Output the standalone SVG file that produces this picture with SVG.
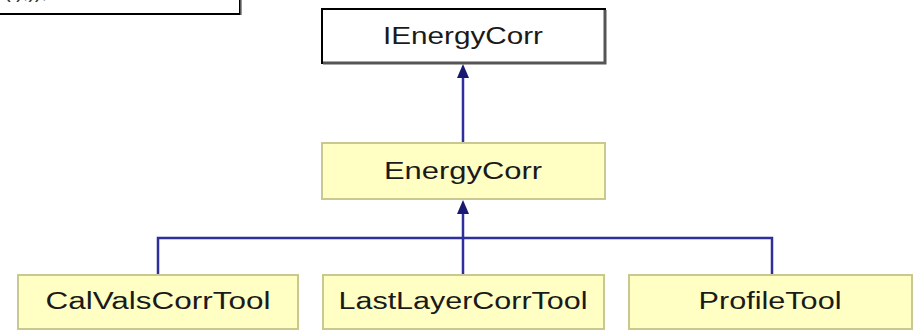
<svg xmlns="http://www.w3.org/2000/svg" width="915" height="331" viewBox="0 0 915 331">
  <style>
    .lbl { font-family: "Liberation Sans", Arial, sans-serif; font-size: 23px; fill: #1a1a1a; text-anchor: middle; }
    .cls { fill: #ffffc4; stroke: #c8c890; stroke-width: 2; }
    .shadow { fill: none; stroke: #b0b090; stroke-width: 2; }
    .edge { stroke: #2e2e9c; stroke-width: 2.5; fill: none; }
  </style>
  <defs>
    <marker id="inherit" viewBox="0 0 10 10" refX="5" refY="1" markerWidth="6" markerHeight="6" markerUnits="userSpaceOnUse" orient="auto-start-reverse">
      <path d="M0,0 L10,0 L5,-1 Z" fill="#191970"/>
    </marker>
  </defs>
  <rect width="915" height="331" fill="#ffffff"/>

  <!-- partially visible note box at top-left -->
  <g id="note">
    <rect x="-4" y="-20" width="244" height="34" fill="#ffffff" stroke="#000000" stroke-width="2"/>
    <line x1="241" y1="-20" x2="241" y2="15" stroke="#777777" stroke-width="1.5"/>
    <text x="4" y="-2" font-family="Liberation Sans, Arial, sans-serif" font-size="20" fill="#333333">(            ),));</text>
  </g>

  <!-- connectors -->
  <g id="edges">
    <line class="edge" x1="463" y1="143" x2="463" y2="78"/>
    <path d="M463,64 L469,78 L457,78 Z" fill="#191970"/>
    <line class="edge" x1="463" y1="275" x2="463" y2="214"/>
    <path d="M463,200 L469,214 L457,214 Z" fill="#191970"/>
    <polyline class="edge" points="158,275 158,238 772,238 772,275"/>
  </g>

  <g id="IEnergyCorr">
    <rect x="322" y="9" width="283" height="54" fill="#ffffff" stroke="#000000" stroke-width="2"/>
    <polyline points="605,10 605,63 323,63" fill="none" stroke="#555555" stroke-width="3"/>
    <text class="lbl" x="463" y="44" font-size="24" textLength="160" lengthAdjust="spacingAndGlyphs">IEnergyCorr</text>
  </g>

  <g id="EnergyCorr">
    <rect class="cls" x="322" y="143" width="283" height="56"/>
    <text class="lbl" x="463" y="179" font-size="24" textLength="158" lengthAdjust="spacingAndGlyphs">EnergyCorr</text>
  </g>

  <g id="CalValsCorrTool">
    <rect class="cls" x="18" y="275" width="280" height="54"/>
    <text class="lbl" x="158" y="309" textLength="225" lengthAdjust="spacingAndGlyphs">CalValsCorrTool</text>
  </g>

  <g id="LastLayerCorrTool">
    <rect class="cls" x="323" y="275" width="281" height="54"/>
    <text class="lbl" x="463" y="309" textLength="249" lengthAdjust="spacingAndGlyphs">LastLayerCorrTool</text>
  </g>

  <g id="ProfileTool">
    <rect class="cls" x="629" y="275" width="283" height="54"/>
    <text class="lbl" x="770" y="309" textLength="143" lengthAdjust="spacingAndGlyphs">ProfileTool</text>
  </g>
</svg>
